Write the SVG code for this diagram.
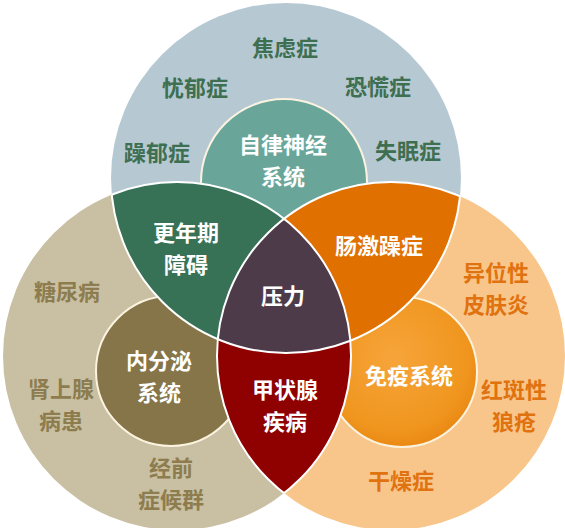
<svg xmlns="http://www.w3.org/2000/svg" width="565" height="528" viewBox="0 0 565 528">
<style>
text{font-family:"Noto Sans CJK SC","Noto Sans",sans-serif;font-weight:bold;font-size:22px;text-anchor:middle}
.tg{fill:#3e6f51}.tb{fill:#8c7c4e}.to{fill:#e0720f}.tw{fill:#ffffff}
.edge{fill:none;stroke:#ffffff;stroke-width:2}
.inner{stroke:#fbf3e0;stroke-width:2}
</style>
<defs>
<clipPath id="cT"><circle cx="286" cy="178" r="175"/></clipPath>
<clipPath id="cL"><circle cx="177" cy="356" r="174"/></clipPath>
<clipPath id="cR"><circle cx="391" cy="356" r="174"/></clipPath>
<clipPath id="cLR"><circle cx="177" cy="356" r="174"/><circle cx="391" cy="356" r="174"/></clipPath>
<clipPath id="cTR"><circle cx="286" cy="178" r="175"/><circle cx="391" cy="356" r="174"/></clipPath>
<clipPath id="cTL"><circle cx="286" cy="178" r="175"/><circle cx="177" cy="356" r="174"/></clipPath>
<radialGradient id="gOr" cx="0.45" cy="0.4" r="0.6">
<stop offset="0" stop-color="#f6a43a"/><stop offset="0.8" stop-color="#f0961f"/><stop offset="1" stop-color="#ea8a14"/>
</radialGradient>
</defs>

<g id="circle-top"><circle cx="286" cy="178" r="175" fill="#b6c9d3"/></g>
<g id="circle-left"><circle cx="177" cy="356" r="174" fill="#c9c0a3"/></g>
<g id="circle-right"><circle cx="391" cy="356" r="174" fill="#f8c68a"/></g>

<g id="inner-top"><circle class="inner" cx="284" cy="182" r="83" fill="#6aa59a" stroke="#ffffff"/></g>
<g id="inner-left"><circle class="inner" cx="171" cy="371" r="75" fill="#857548"/></g>
<g id="inner-right"><circle class="inner" cx="402" cy="372" r="75" fill="url(#gOr)"/></g>

<g id="region-top-left"><circle cx="177" cy="356" r="174" fill="#377257" clip-path="url(#cT)"/></g>
<g id="region-top-right"><circle cx="391" cy="356" r="174" fill="#e07000" clip-path="url(#cT)"/></g>
<g id="region-left-right"><circle cx="391" cy="356" r="174" fill="#8f0000" clip-path="url(#cL)"/></g>
<g id="region-center" clip-path="url(#cL)"><circle cx="286" cy="178" r="175" fill="#4e3b4a" clip-path="url(#cR)"/></g>

<g id="connectors">
<circle class="edge" cx="286" cy="178" r="175" clip-path="url(#cLR)"/>
<circle class="edge" cx="177" cy="356" r="174" clip-path="url(#cTR)"/>
<circle class="edge" cx="391" cy="356" r="174" clip-path="url(#cTL)"/>
</g>

<g id="labels-top">
<text class="tg" x="285" y="56">焦虑症</text>
<text class="tg" x="195" y="96">忧郁症</text>
<text class="tg" x="378" y="95">恐慌症</text>
<text class="tg" x="157" y="161">躁郁症</text>
<text class="tg" x="408" y="159">失眠症</text>
</g>
<g id="label-autonomic"><text class="tw" x="283" y="153">自律神经<tspan x="283" dy="32">系统</tspan></text></g>
<g id="label-menopause"><text class="tw" x="186" y="241">更年期<tspan x="186" dy="32">障碍</tspan></text></g>
<g id="label-ibs"><text class="tw" x="379" y="254">肠激躁症</text></g>
<g id="label-stress"><text class="tw" x="283" y="304">压力</text></g>
<g id="label-endocrine"><text class="tw" x="159" y="369">内分泌<tspan x="159" dy="32">系统</tspan></text></g>
<g id="label-thyroid"><text class="tw" x="285" y="398">甲状腺<tspan x="285" dy="32">疾病</tspan></text></g>
<g id="label-immune"><text class="tw" x="409" y="384">免疫系统</text></g>
<g id="labels-left">
<text class="tb" x="67" y="300">糖尿病</text>
<text class="tb" x="61" y="397">肾上腺<tspan x="61" dy="32">病患</tspan></text>
<text class="tb" x="171" y="476">经前<tspan x="171" dy="32">症候群</tspan></text>
</g>
<g id="labels-right">
<text class="to" x="496" y="281">异位性<tspan x="496" dy="32">皮肤炎</tspan></text>
<text class="to" x="514" y="398">红斑性<tspan x="514" dy="32">狼疮</tspan></text>
<text class="to" x="401" y="489">干燥症</text>
</g>
</svg>
